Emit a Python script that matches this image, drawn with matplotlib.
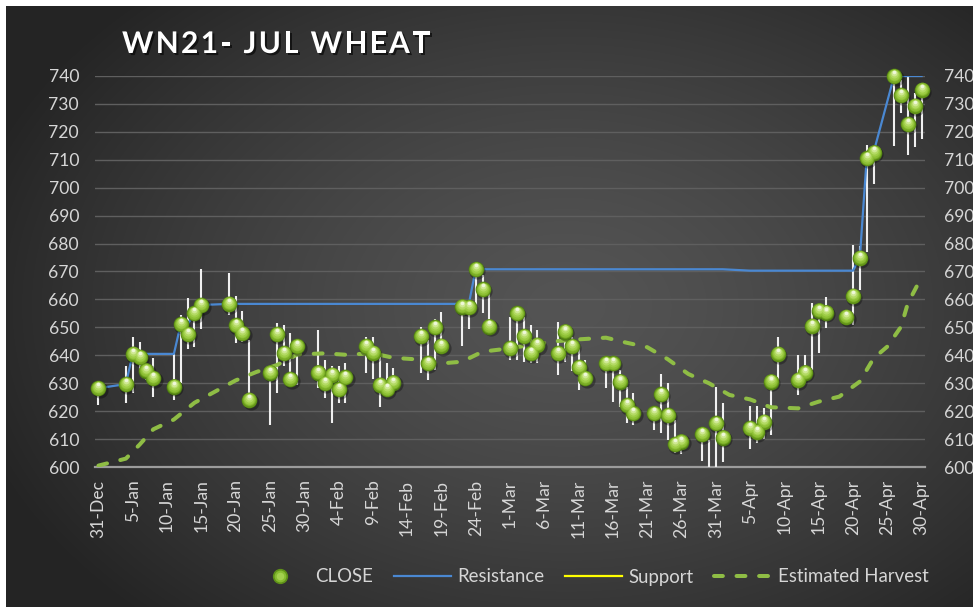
import numpy as np
import pandas as pd
import matplotlib
matplotlib.use("Agg")
import matplotlib.pyplot as plt
import matplotlib.dates as mdates
import matplotlib.patheffects as pe
from matplotlib.transforms import offset_copy
from matplotlib.lines import Line2D
from matplotlib.legend_handler import HandlerTuple
from matplotlib.ticker import FuncFormatter

nan = np.nan

# ---------------- data ----------------
dates = ["2020-12-31",
         "2021-01-04", "2021-01-05", "2021-01-06", "2021-01-07", "2021-01-08",
         "2021-01-11", "2021-01-12", "2021-01-13", "2021-01-14", "2021-01-15",
         "2021-01-19", "2021-01-20", "2021-01-21", "2021-01-22",
         "2021-01-25", "2021-01-26", "2021-01-27", "2021-01-28", "2021-01-29",
         "2021-02-01", "2021-02-02", "2021-02-03", "2021-02-04", "2021-02-05",
         "2021-02-08", "2021-02-09", "2021-02-10", "2021-02-11", "2021-02-12",
         "2021-02-16", "2021-02-17", "2021-02-18", "2021-02-19",
         "2021-02-22", "2021-02-23", "2021-02-24", "2021-02-25", "2021-02-26",
         "2021-03-01", "2021-03-02", "2021-03-03", "2021-03-04", "2021-03-05",
         "2021-03-08", "2021-03-09", "2021-03-10", "2021-03-11", "2021-03-12",
         "2021-03-15", "2021-03-16", "2021-03-17", "2021-03-18", "2021-03-19",
         "2021-03-22", "2021-03-23", "2021-03-24", "2021-03-25", "2021-03-26",
         "2021-03-29", "2021-03-30", "2021-03-31", "2021-04-01",
         "2021-04-05", "2021-04-06", "2021-04-07", "2021-04-08", "2021-04-09",
         "2021-04-12", "2021-04-13", "2021-04-14", "2021-04-15", "2021-04-16",
         "2021-04-19", "2021-04-20", "2021-04-21", "2021-04-22", "2021-04-23",
         "2021-04-26", "2021-04-27", "2021-04-28", "2021-04-29", "2021-04-30"]

close = [628.2,
         629.7, 640.5, 639.3, 634.5, 631.8,
         628.8, 651.1, 647.6, 655.0, 658.0,
         658.4, 650.7, 647.9, 624.0,
         633.8, 647.6, 640.7, 631.4, 643.3,
         633.8, 630.0, 633.0, 627.8, 632.1,
         643.3, 640.9, 629.4, 627.8, 630.2,
         646.9, 637.1, 650.0, 643.4,
         657.4, 657.2, 670.8, 663.6, 650.3,
         642.5, 655.0, 646.9, 640.7, 643.7,
         640.7, 648.5, 643.3, 635.7, 631.8,
         637.1, 637.1, 630.6, 622.2, 619.2,
         619.2, 626.0, 618.6, 608.2, 609.1,
         611.8, nan, 615.6, 610.5,
         613.9, 612.6, 616.2, 630.6, 640.5,
         631.2, 633.8, 650.5, 656.0, 655.3,
         653.8, 661.3, 674.9, 710.5, 712.6,
         740.0, 733.2, 722.7, 729.3, 735.0]

high = [630.0,
        636.2, 646.7, 644.9, 637.0, 638.9,
        640.5, 654.4, 660.6, 656.5, 670.8,
        669.4, 661.2, 656.0, 645.5,
        636.0, 651.5, 650.8, 647.9, 646.0,
        649.1, 638.3, 636.0, 636.0, 637.1,
        646.4, 646.7, 639.5, 637.4, 635.4,
        650.3, 645.5, 652.9, 655.6,
        659.0, 659.0, 672.0, 668.8, 662.2,
        653.8, 656.0, 653.8, 650.8, 649.1,
        652.0, 650.0, 646.7, 643.7, 638.3,
        638.5, 639.5, 634.7, 628.8, 626.4,
        621.0, 633.3, 630.0, 617.0, 611.0,
        613.0, 609.6, 628.8, 622.8,
        622.0, 622.0, 621.0, 632.0, 646.7,
        640.1, 640.1, 658.8, 658.0, 660.8,
        655.0, 679.5, 679.0, 715.3, 714.5,
        740.0, 738.6, 740.0, 733.8, 737.0]

low = [622.2,
       622.8, 626.4, 634.7, 631.0, 625.2,
       624.0, 630.0, 642.1, 643.0, 649.3,
       654.4, 644.3, 644.9, 624.0,
       615.0, 626.4, 636.0, 628.8, 629.4,
       628.2, 624.6, 615.9, 623.0, 623.0,
       633.6, 631.4, 621.6, 625.2, 627.6,
       633.6, 631.2, 634.7, 640.7,
       643.3, 649.3, 657.4, 655.3, 650.3,
       638.3, 638.3, 637.7, 637.1, 637.1,
       633.0, 637.7, 634.2, 627.6, 629.4,
       628.2, 623.4, 621.6, 615.7, 615.0,
       613.3, 612.3, 609.7, 605.0, 604.5,
       602.3, 600.0, 600.0, 601.9,
       606.5, 608.5, 610.0, 611.5, 631.2,
       625.8, 631.0, 634.7, 640.9, 649.7,
       651.0, 650.8, 663.4, 677.1, 701.3,
       714.9, 726.6, 711.7, 714.5, 717.3]

resistance = [628.2,
              629.7, 640.5, 640.5, 640.5, 640.5,
              640.5, 651.1, 651.1, 655.0, 658.0,
              658.4, 658.4, 658.4, 658.4,
              658.4, 658.4, 658.4, 658.4, 658.4,
              658.4, 658.4, 658.4, 658.4, 658.4,
              658.4, 658.4, 658.4, 658.4, 658.4,
              658.4, 658.4, 658.4, 658.4,
              658.4, 658.4, 670.8, 670.8, 670.8,
              670.8, 670.8, 670.8, 670.8, 670.8,
              670.8, 670.8, 670.8, 670.8, 670.8,
              670.8, 670.8, 670.8, 670.8, 670.8,
              670.8, 670.8, 670.8, 670.8, 670.8,
              670.8, 670.8, 670.8, 670.8,
              670.3, 670.3, 670.3, 670.3, 670.3,
              670.3, 670.3, 670.3, 670.3, 670.3,
              670.3, 670.3, 674.9, 710.5, 712.6,
              740.0, 740.0, 740.0, 740.0, 740.0]

support = [nan] * len(dates)

harvest_dates = ["2020-12-31", "2021-01-04", "2021-01-06", "2021-01-08", "2021-01-11",
                 "2021-01-14", "2021-01-17", "2021-01-20", "2021-01-23", "2021-01-26",
                 "2021-01-29", "2021-02-02", "2021-02-05", "2021-02-09", "2021-02-12",
                 "2021-02-15", "2021-02-19", "2021-02-22", "2021-02-25", "2021-03-01",
                 "2021-03-04", "2021-03-08", "2021-03-11", "2021-03-15", "2021-03-18",
                 "2021-03-21", "2021-03-24", "2021-03-27", "2021-03-30", "2021-04-02",
                 "2021-04-05", "2021-04-08", "2021-04-12", "2021-04-15", "2021-04-18",
                 "2021-04-21", "2021-04-23", "2021-04-25", "2021-04-27", "2021-04-28",
                 "2021-04-30"]
harvest = [600.5, 603.0, 608.0, 613.5, 617.0,
           623.0, 627.0, 631.0, 634.0, 636.5,
           640.3, 640.7, 640.2, 640.7, 639.1,
           638.6, 637.1, 637.7, 641.3, 642.5,
           643.7, 645.1, 645.7, 646.3, 644.5,
           642.9, 638.6, 633.3, 630.0, 625.8,
           624.2, 621.4, 621.0, 623.4, 625.2,
           630.6, 638.9, 643.1, 650.2, 658.6,
           668.0]

yticks = list(range(600, 741, 10))
title = "WN21- JUL WHEAT"
legend_labels = ["CLOSE", "Resistance", "Support", "Estimated Harvest"]

# ---------------- figure ----------------
W, H = 973, 607
fig = plt.figure(figsize=(W / 100, H / 100), dpi=100, facecolor="white")

# background with radial gradient (white strip top/left as in reference)
bg = fig.add_axes([6 / W, 0, (W - 6) / W, (H - 6) / H])
bg.set_axis_off()
gh, gw = H - 6, W - 6
yy, xx = np.mgrid[0:gh, 0:gw]
r = np.sqrt(((xx - 560) / 620.0) ** 2 + ((yy - 300) / 430.0) ** 2)
val = 84 - 48 * np.clip(r, 0, 1.25) ** 1.4
val = np.clip(val, 36, 90) / 255.0
img = np.dstack([val, val, val])
bg.imshow(img, aspect="auto", extent=[0, 1, 0, 1], interpolation="bilinear")
bg.set_xlim(0, 1)
bg.set_ylim(0, 1)

x = pd.to_datetime(dates)
hx = pd.to_datetime(harvest_dates)
close_a = np.array(close, dtype=float)

ax = fig.add_axes([95 / W, 1 - 467 / H, 830 / W, 391 / H])
ax.patch.set_alpha(0)
start = pd.Timestamp("2020-12-31")
end = pd.Timestamp("2021-04-30")
ax.set_xlim(start - pd.Timedelta(hours=12), end + pd.Timedelta(hours=12))
ax.set_ylim(600, 740)
for s in ["top", "left", "right"]:
    ax.spines[s].set_visible(False)
ax.spines["bottom"].set_color("#9c9c9c")
ax.spines["bottom"].set_linewidth(1.6)
ax.spines["bottom"].set_zorder(1.5)

ax.set_yticks(yticks)
ax.grid(axis="y", color="#5f5f5f", linewidth=1.0, zorder=0)
ax.set_axisbelow(True)

FAM = ["Lato", "DejaVu Sans"]
tick_size = 12.6
tcolor = "#d6d6d6"

xt = pd.date_range(start, end, freq="5D")
ax.set_xticks(xt)
ax.xaxis.set_major_formatter(FuncFormatter(
    lambda v, p: (lambda d: f"{d.day}-{d.strftime('%b')}")(mdates.num2date(v))))
ax.tick_params(axis="x", length=0, pad=9, labelcolor=tcolor, labelrotation=90)
ax.tick_params(axis="y", length=0, pad=11.5, labelcolor=tcolor)
for lab in ax.get_xticklabels() + ax.get_yticklabels():
    lab.set_fontfamily(FAM)
    lab.set_fontsize(tick_size)

ax2 = ax.twinx()
ax2.set_ylim(600, 740)
ax2.set_yticks(yticks)
for s in ax2.spines.values():
    s.set_visible(False)
ax2.tick_params(axis="y", length=0, pad=13.5, labelcolor=tcolor)
for lab in ax2.get_yticklabels():
    lab.set_fontfamily(FAM)
    lab.set_fontsize(tick_size)
ax2.patch.set_alpha(0)

# high-low whiskers
ax.vlines(x, low, high, color="#f0f0f0", linewidth=1.5, zorder=2)

# estimated harvest
ax.plot(hx, harvest, color="#8fbd45", linewidth=2.9, linestyle=(0, (2.2, 3.4)),
        dash_capstyle="round", zorder=2.2)

# support (no visible values)
ax.plot(x, support, color="#ffff00", linewidth=1.6, zorder=2.3)

# resistance
ax.plot(x, resistance, color="#4a88d2", linewidth=1.6, zorder=2.4)

# spheres for close (layered shading)
S = 128
layers = [
    (1.0, -1.3, S * 1.06, "#000000", 0.33),
    (0.0, 0.0, S, "#4e7d12", 1.0),
    (0.0, 0.15, S * 0.88, "#649619", 1.0),
    (0.0, 0.35, S * 0.74, "#79ab25", 1.0),
    (0.0, 0.6, S * 0.58, "#8cbf34", 1.0),
    (0.0, 1.0, S * 0.42, "#9ecd46", 1.0),
    (0.0, 1.5, S * 0.27, "#b3da63", 1.0),
    (0.0, 2.2, S * 0.14, "#cfe894", 1.0),
    (0.0, 2.9, S * 0.05, "#eef8da", 1.0),
]
for dx, dy, ss, col, al in layers:
    tr = offset_copy(ax.transData, fig=fig, x=dx, y=dy, units="points")
    ax.scatter(x, close_a, s=ss, color=col, alpha=al, linewidths=0,
               transform=tr, zorder=3, clip_on=False)

# title with letter spacing
renderer = fig.canvas.get_renderer()
title_kw = dict(fontsize=21.5, fontweight="bold", family=FAM)


def text_w(s):
    t = fig.text(0, 0, s + "|", **title_kw)
    t0 = fig.text(0, 0, "|", **title_kw)
    w = t.get_window_extent(renderer).width - t0.get_window_extent(renderer).width
    t.remove()
    t0.remove()
    return w


natural = text_w(title)
target = 308.0
extra = (target - natural) / (len(title) - 1)
x0, ybase = 122.0, 1 - 53 / H
for i, ch in enumerate(title):
    if ch == " ":
        continue
    xp = x0 + text_w(title[:i]) + i * extra
    fig.text(xp / W, ybase, ch, color="white", ha="left", va="baseline",
             path_effects=[pe.withSimplePatchShadow(offset=(1.5, -1.5),
                                                    shadow_rgbFace="black",
                                                    alpha=0.6)],
             **title_kw)

# legend
ball_base = Line2D([], [], linestyle="none", marker="o", markersize=11,
                   markerfacecolor="#5f9218", markeredgewidth=0)
ball_mid = Line2D([], [], linestyle="none", marker="o", markersize=8.5,
                  markerfacecolor="#86bb30", markeredgewidth=0)
ball_top = Line2D([], [], linestyle="none", marker="o", markersize=5.5,
                  markerfacecolor="#a3d04e", markeredgewidth=0)
h_res = Line2D([], [], color="#4a88d2", linewidth=1.6)
h_sup = Line2D([], [], color="#ffff00", linewidth=1.6)
h_har = Line2D([], [], color="#8fbd45", linewidth=2.9, linestyle=(0, (2.2, 3.4)),
               dash_capstyle="round")
leg = fig.legend([(ball_base, ball_mid, ball_top), h_res, h_sup, h_har],
                 legend_labels,
                 handler_map={tuple: HandlerTuple(ndivide=1, pad=0)},
                 loc="center", bbox_to_anchor=(590 / W, 1 - 577 / H), ncol=4,
                 frameon=False, handlelength=3.1, handletextpad=0.32,
                 columnspacing=1.1, numpoints=1,
                 prop=dict(family=FAM, size=13.4))
for t in leg.get_texts():
    t.set_color(tcolor)

fig.savefig("out.png", dpi=100, facecolor="white")
